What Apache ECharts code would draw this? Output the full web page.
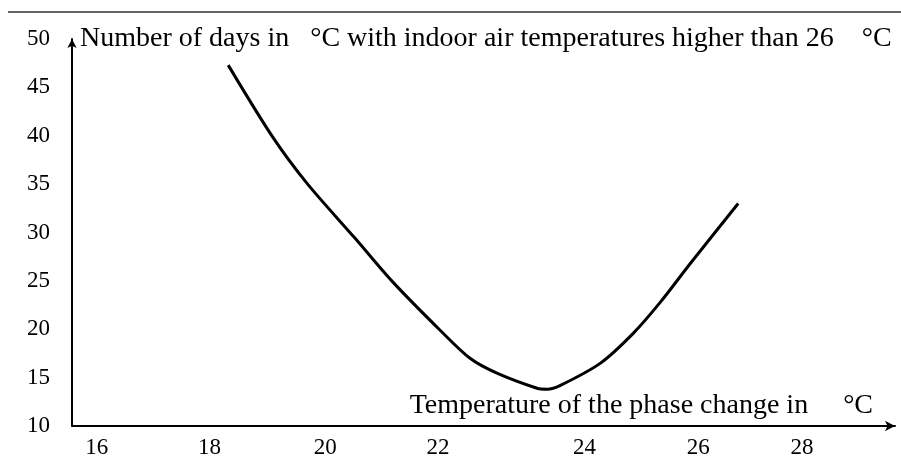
<!DOCTYPE html>
<html>
<head>
<meta charset="utf-8">
<script src="https://cdn.jsdelivr.net/npm/echarts@6/dist/echarts.min.js"></script>
<style>
  html, body { margin: 0; padding: 0; background: #fff; }
  #chart { width: 901px; height: 469px; }
</style>
</head>
<body>
<div id="chart"></div>
<script>
  // data
  var xTicks = [16, 18, 20, 22, 24, 26, 28];
  var phaseTemp = [18.28, 19.03, 19.6, 20.4, 21.02, 21.82, 22.32, 22.77, 23.44, 23.61, 23.83, 24.5, 25.05, 25.5, 26.0, 26.8];
  var hotDays = [47.3, 39.8, 35.05, 29.4, 24.95, 19.9, 17.0, 15.46, 13.9, 13.8, 14.2, 16.5, 19.6, 22.8, 26.8, 33.0];

  // the tick labels in the original are text boxes, not quite evenly spaced (px nudge per label)
  var tickNudge = [5, -2, -6, -13, 14, 8, -8];

  var font = 'Liberation Serif';

  var points = phaseTemp.map(function (x, i) { return [x, hotDays[i]]; });

  var rich = {};
  tickNudge.forEach(function (d, i) {
    rich['t' + i] = {
      fontFamily: font, fontSize: 23, color: '#000',
      padding: d >= 0 ? [0, 0, 0, 2 * d] : [0, -2 * d, 0, 0]
    };
  });

  var myChart = echarts.init(document.getElementById('chart'));
  var option = {
    animation: false,
    backgroundColor: '#fff',
    // x axis caption sits above the axis, right side
    title: {
      text: 'Temperature of the phase change in     °C',
      right: 28,
      top: 392,
      padding: 0,
      textStyle: { fontFamily: font, fontSize: 28, fontWeight: 'normal', color: '#000' }
    },
    grid: { left: 72, right: 6, top: 39, bottom: 43, outerBoundsMode: 'none', containLabel: false },
    graphic: [
      {
        type: 'line',
        shape: { x1: 8, y1: 12, x2: 901, y2: 12 },
        style: { stroke: '#333', lineWidth: 1.5 }
      }
    ],
    xAxis: {
      type: 'value',
      min: 15.67,
      max: 29.42,
      axisLine: {
        show: true,
        symbol: ['none', 'arrow'],
        symbolSize: [8, 10],
        lineStyle: { color: '#000', width: 2 }
      },
      axisTick: { show: false },
      splitLine: { show: false },
      axisLabel: {
        customValues: xTicks,
        margin: 10,
        formatter: function (v) {
          var i = xTicks.indexOf(Math.round(v));
          return '{t' + i + '|' + Math.round(v) + '}';
        },
        rich: rich
      }
    },
    yAxis: {
      type: 'value',
      min: 10,
      max: 50,
      interval: 5,
      name: 'Number of days in   °C with indoor air temperatures higher than 26    °C',
      nameLocation: 'end',
      nameGap: 0,
      nameTextStyle: {
        fontFamily: font, fontSize: 28, color: '#000',
        align: 'left', verticalAlign: 'middle', padding: [0, 0, 0, 8]
      },
      axisLine: {
        show: true,
        symbol: ['none', 'arrow'],
        symbolSize: [7, 9],
        lineStyle: { color: '#000', width: 2 }
      },
      axisTick: { show: false },
      splitLine: { show: false },
      axisLabel: { fontFamily: font, fontSize: 23, color: '#000', margin: 22 }
    },
    series: [
      {
        type: 'line',
        data: points,
        smooth: 0.3,
        showSymbol: false,
        lineStyle: { color: '#000', width: 3 }
      }
    ]
  };
  myChart.setOption(option);
</script>
</body>
</html>
